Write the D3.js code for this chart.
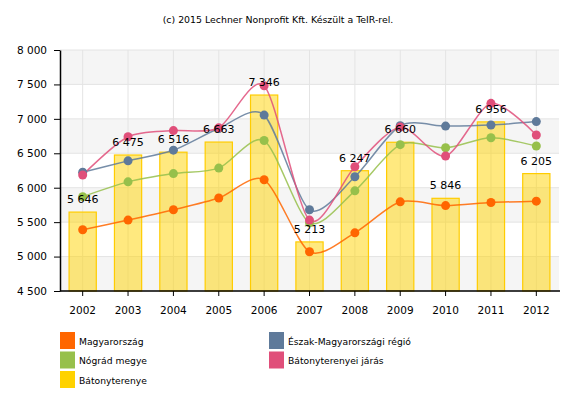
<!DOCTYPE html>
<html><head><meta charset="utf-8">
<script src="https://cdn.jsdelivr.net/npm/d3@7"></script>
<style>body{margin:0;background:#fff}svg{display:block}text{font-family:"DejaVu Sans",Verdana,sans-serif}</style>
</head><body>
<script>
const years = ["2002","2003","2004","2005","2006","2007","2008","2009","2010","2011","2012"];
const magyarorszag = [5390,5530,5680,5850,6115,5070,5345,5795,5740,5785,5805];
const eszak = [6225,6390,6545,6860,7055,5680,6160,6900,6895,6910,6960];
const nograd = [5870,6085,6205,6285,6685,5490,5955,6625,6580,6725,6605];
const jaras = [6185,6740,6830,6870,7480,5530,6305,6880,6460,7225,6765];
const batonyterenye = [5646,6475,6516,6663,7346,5213,6247,6660,5846,6956,6205];
const yTicks = [4500,5000,5500,6000,6500,7000,7500,8000];
const title = "(c) 2015 Lechner Nonprofit Kft. Készült a TeIR-rel.";

const W=580,H=400, L=60, R=559, T=50, B=291;
const svg = d3.select("body").append("svg").attr("width",W).attr("height",H);
const x = d3.scaleBand().domain(years).range([L,R]).paddingInner(0.4).paddingOuter(0.2);
const y = d3.scaleLinear().domain([4500,8000]).range([B,T]);
const fmt = v => d3.format(",")(v).replace(/,/g," ");

// title
svg.append("text").attr("x",278).attr("y",23).attr("text-anchor","middle")
  .attr("font-size","9.4px").attr("fill","#000").text(title);

// stripes
const g = svg.append("g");
for (let i=0;i<yTicks.length-1;i++){
  const lo=yTicks[i], hi=yTicks[i+1];
  if ((yTicks.length-2-i)%2===0) g.append("rect").attr("x",L).attr("width",R-L)
     .attr("y",y(hi)).attr("height",y(lo)-y(hi)).attr("fill","#f5f5f5");
}
// grid
g.selectAll(".hg").data(yTicks).enter().append("line")
  .attr("x1",L).attr("x2",R).attr("y1",d=>y(d)).attr("y2",d=>y(d))
  .attr("stroke","#e4e4e4").attr("stroke-width",1);
g.selectAll(".vg").data(years).enter().append("line")
  .attr("x1",d=>x(d)+x.bandwidth()/2).attr("x2",d=>x(d)+x.bandwidth()/2)
  .attr("y1",T).attr("y2",B).attr("stroke","#e4e4e4").attr("stroke-width",1);

// bars
svg.selectAll(".bar").data(batonyterenye).enter().append("rect")
  .attr("x",(d,i)=>x(years[i])).attr("width",x.bandwidth())
  .attr("y",d=>y(d)).attr("height",d=>B-y(d))
  .attr("fill","rgba(255,212,0,0.5)").attr("stroke","#ffcc00").attr("stroke-width",1.2);

// lines
const series = [
  {name:"Magyarország", vals:magyarorszag, color:"#ff6600"},
  {name:"Nógrád megye", vals:nograd, color:"#97c04b"},
  {name:"Észak-Magyarországi régió", vals:eszak, color:"#5f7a9a"},
  {name:"Bátonyterenyei járás", vals:jaras, color:"#e04f7a"}
];
const line = d3.line().x((d,i)=>x(years[i])+x.bandwidth()/2).y(d=>y(d)).curve(d3.curveCardinal.tension(0.2));
series.forEach(s=>{
  svg.append("path").attr("d",line(s.vals)).attr("fill","none").attr("stroke",s.color).attr("stroke-width",1.5).attr("stroke-opacity",0.85);
});
series.forEach(s=>{
  svg.append("g").selectAll("circle").data(s.vals).enter().append("circle")
    .attr("cx",(d,i)=>x(years[i])+x.bandwidth()/2).attr("cy",d=>y(d)).attr("r",4.5).attr("fill",s.color);
});

// data labels
svg.selectAll(".lbl").data(batonyterenye).enter().append("text")
  .attr("x",(d,i)=>x(years[i])+x.bandwidth()/2).attr("y",d=>y(d)-9)
  .attr("text-anchor","middle").attr("font-size","11px").attr("fill","#000").text(fmt);

// axes
const ya = svg.append("g").attr("transform",`translate(${L},0)`)
  .call(d3.axisLeft(y).tickValues(yTicks).tickSize(6).tickSizeOuter(0).tickFormat(fmt));
const xa = svg.append("g").attr("transform",`translate(0,${B})`)
  .call(d3.axisBottom(x).tickSize(5).tickSizeOuter(0));
[ya,xa].forEach(a=>{
  a.selectAll("text").attr("font-size","10.5px").attr("font-family","DejaVu Sans, Verdana, sans-serif").attr("fill","#000");
  a.selectAll("line").attr("stroke","#000");
  a.select(".domain").attr("stroke","#000").attr("stroke-width",1.5);
});
ya.selectAll("text").attr("x",-13);
xa.selectAll("text").attr("y",16);
xa.select(".domain").attr("d",`M${L},0H${R+1}`);

// legend
const legend = [
  {name:"Magyarország", color:"#ff6600", col:0,row:0},
  {name:"Észak-Magyarországi régió", color:"#5f7a9a", col:1,row:0},
  {name:"Nógrád megye", color:"#97c04b", col:0,row:1},
  {name:"Bátonyterenyei járás", color:"#e04f7a", col:1,row:1},
  {name:"Bátonyterenye", color:"#ffd200", col:0,row:2}
];
const lg = svg.append("g");
legend.forEach(d=>{
  const lx = d.col===0?60:269, ly = 332 + d.row*19.5;
  lg.append("rect").attr("x",lx).attr("y",ly).attr("width",15).attr("height",17).attr("fill",d.color);
  lg.append("text").attr("x",lx+19).attr("y",ly+12.5).attr("font-size","9.2px").attr("fill","#000").text(d.name);
});
</script>
</body></html>
